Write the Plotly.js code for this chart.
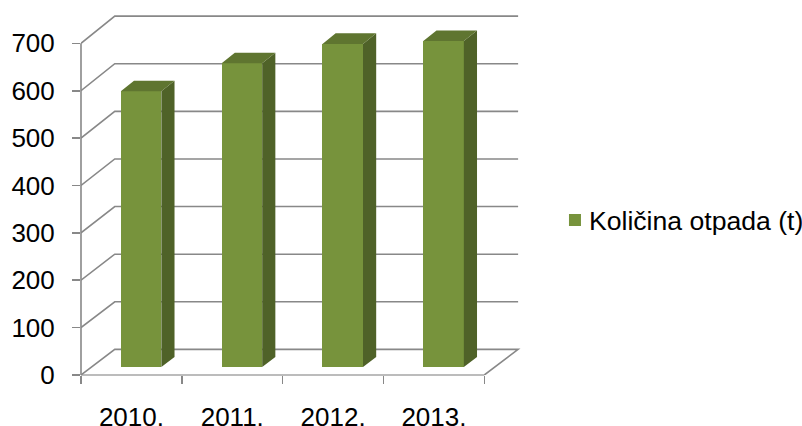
<!DOCTYPE html>
<html>
<head>
<meta charset="utf-8">
<script src="https://cdn.plot.ly/plotly-3.0.1.min.js"></script>
<style>html,body{margin:0;padding:0;background:#fff}#chart{width:802px;height:426px}</style>
</head>
<body>
<div id="chart"></div>
<script>
var categories = ["2010.", "2011.", "2012.", "2013."];
var seriesName = "Količina otpada (t)";
var values = [581, 640, 681, 687];
var yTicks = [0, 100, 200, 300, 400, 500, 600, 700];

var FRONT = "#77933c", TOP = "#5f7530", SIDE = "#4f6228", GRID = "#888888";
var dxBack = 0.335, dyBack = 54, persp = 0.005;
var barFront = 0.31, barDepth = 0.39, barW = 0.402, barShift = -0.008;

// oblique projection: category position + value + depth (0 front, 1 back wall)
function px(c, d) { return c + d * dxBack; }
function py(v, d) { return v * (1 + persp * d) + dyBack * d; }

var catPos = categories.map(function (_, i) { return i; });
var xLeft = -0.5, xRight = categories.length - 0.5;

var shapes = [];
yTicks.forEach(function (v) {
  var xs = [px(xLeft, 0), px(xLeft, 1), px(xRight, 1)];
  var ys = [py(v, 0), py(v, 1), py(v, 1)];
  if (v === 0) { xs.push(px(xRight, 0)); ys.push(py(0, 0)); }
  var path = xs.map(function (x, i) { return (i ? "L" : "M") + x + "," + ys[i]; }).join(" ");
  shapes.push({type: "path", xref: "x", yref: "y", layer: "below", path: path,
    line: {color: GRID, width: 1.6}});
});
shapes.push({type: "line", xref: "paper", yref: "y", layer: "below", x0: 0, x1: 0, y0: 0, y1: 700,
  line: {color: GRID, width: 1.6}});
shapes.push({type: "line", xref: "x", yref: "paper", layer: "below", x0: xLeft, x1: xRight, y0: 0, y1: 0,
  line: {color: "#a6a6a6", width: 1.6}});

var d0 = barFront, d1 = barFront + barDepth;
var sideX = [], sideY = [], topX = [], topY = [];
values.forEach(function (v, i) {
  var xl = px(catPos[i] + barShift - barW / 2, d0), xr = xl + barW;
  var xr1 = xr + barDepth * dxBack, xl1 = xl + barDepth * dxBack;
  sideX.push(xr, xr1, xr1, xr, xr, null);
  sideY.push(py(0, d0), py(0, d1), py(v, d1), py(v, d0), py(0, d0), null);
  topX.push(xl, xr, xr1, xl1, xl, null);
  topY.push(py(v, d0), py(v, d0), py(v, d1), py(v, d1), py(v, d0), null);
});

var traces = [
  {type: "bar", name: seriesName, showlegend: true, hoverinfo: "skip",
   x: catPos.map(function (c) { return px(c + barShift, d0); }),
   y: values.map(function (v) { return py(v, d0) - py(0, d0); }),
   base: values.map(function () { return py(0, d0); }),
   width: barW, marker: {color: FRONT, line: {width: 0}}},
  {type: "scatter", mode: "lines", x: sideX, y: sideY, fill: "toself", fillcolor: SIDE,
   line: {width: 0, color: SIDE}, showlegend: false, hoverinfo: "skip"},
  {type: "scatter", mode: "lines", x: topX, y: topY, fill: "toself", fillcolor: TOP,
   line: {width: 0, color: TOP}, showlegend: false, hoverinfo: "skip"}
];

var pxPerCat = 100.9, pxPerVal = 0.4734;
var m = {l: 80.7, r: 277, t: 10, b: 51.3, autoexpand: false};
var font = {family: "Liberation Sans, Arial, sans-serif", size: 26, color: "#000"};
var legendFont = {family: "Liberation Sans, Arial, sans-serif", size: 26.6, color: "#000"};

var layout = {
  width: 802, height: 426, margin: m, autosize: false,
  paper_bgcolor: "#fff", plot_bgcolor: "rgba(0,0,0,0)", font: font, showlegend: true,
  bargap: 0, barmode: "overlay",
  xaxis: {
    range: [xLeft, xLeft + (802 - m.l - m.r) / pxPerCat],
    tickmode: "array", tickvals: catPos, ticktext: categories,
    ticks: "", showgrid: false, zeroline: false, showline: false,
    ticklabelstandoff: 24, tickfont: font,
    minor: {ticks: "outside", tickmode: "array",
      tickvals: [-0.5, 0.5, 1.5, 2.5, 3.5], ticklen: 8, tickwidth: 1.6, tickcolor: GRID, showgrid: false}
  },
  yaxis: {
    range: [0, (426 - m.t - m.b) / pxPerVal],
    tickmode: "array", tickvals: yTicks, ticktext: yTicks.map(String),
    ticks: "outside", ticklen: 8, tickwidth: 1.6, tickcolor: GRID,
    showgrid: false, zeroline: false, showline: false,
    ticklabelstandoff: 12, tickfont: font
  },
  legend: {x: 1.054, y: 0.424, xanchor: "left", yanchor: "middle", font: legendFont,
    bgcolor: "rgba(0,0,0,0)", borderwidth: 0, itemclick: false, itemdoubleclick: false},
  shapes: shapes
};
Plotly.newPlot("chart", traces, layout, {displayModeBar: false, staticPlot: true}).then(function () {
  document.querySelectorAll(".legend path.legendbar").forEach(function (p) {
    p.setAttribute("d", "M7,7H-7V-7H7Z");
  });
  document.querySelectorAll(".legend g.legendpoints").forEach(function (g) {
    g.setAttribute("transform", "translate(6,0)");
  });
});
</script>
</body>
</html>
